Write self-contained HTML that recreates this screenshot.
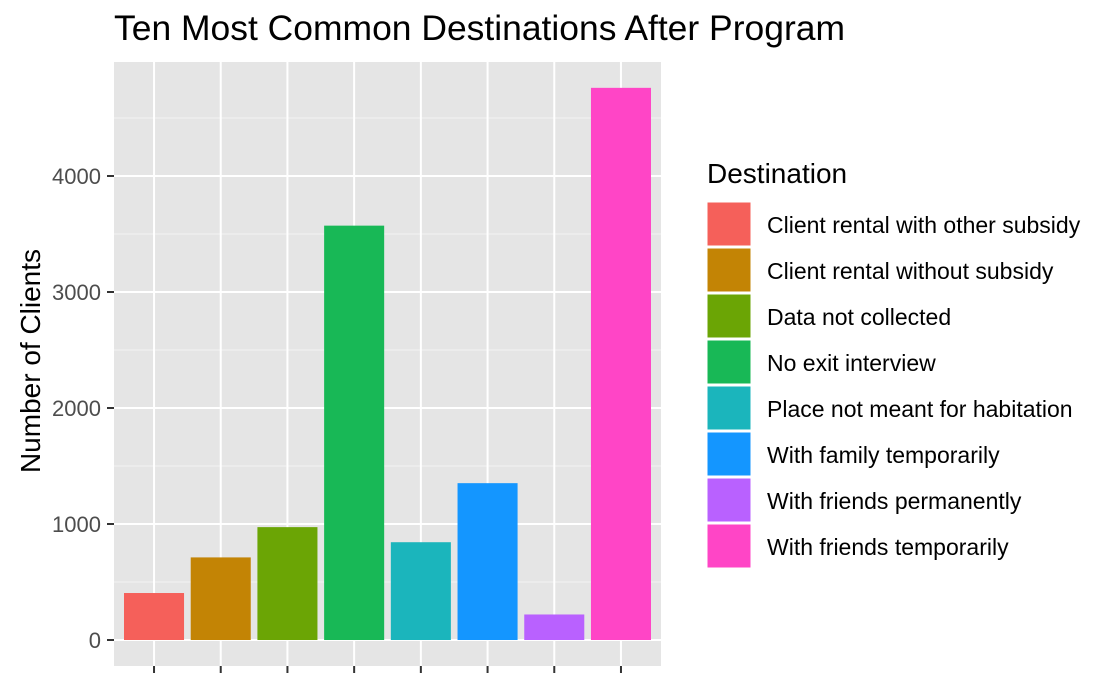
<!DOCTYPE html>
<html><head><meta charset="utf-8"><style>
body{margin:0;background:#fff;font-family:"Liberation Sans",Arial,sans-serif}
</style></head><body>
<svg id="chart" width="1116" height="689" xmlns="http://www.w3.org/2000/svg" font-family="Liberation Sans, Arial, sans-serif"></svg>
<script>
const categories=["Client rental with other subsidy","Client rental without subsidy","Data not collected","No exit interview","Place not meant for habitation","With family temporarily","With friends permanently","With friends temporarily"];
const values=[405,712,973,3572,843,1352,220,4760];
const colors=["#F5605A","#C38405","#6BA505","#18B856","#1BB5BC","#1496FF","#B961FF","#FF45C6"];
const yTicks=[0,1000,2000,3000,4000];
const yMinor=[500,1500,2500,3500,4500];
const ns="http://www.w3.org/2000/svg";
const svg=document.getElementById('chart');
const px0=114,px1=661,py0=62,py1=666;
const step=(px1-px0)/(categories.length+0.2);
const x=i=>px0+step*(0.6+i);
const y=v=>640-v*0.116;
function el(t,a,p){const e=document.createElementNS(ns,t);for(const k in a)e.setAttribute(k,a[k]);(p||svg).appendChild(e);return e;}
let r=el('rect',{x:px0,y:py0,width:px1-px0,height:py1-py0,fill:'#E5E5E5'});


yMinor.forEach(v=>{el('line',{x1:px0,x2:px1,y1:y(v),y2:y(v),stroke:'#F2F2F2','stroke-width':1});});
yTicks.forEach(v=>{
 let g=el('line',{x1:px0,x2:px1,y1:y(v),y2:y(v),stroke:'#fff','stroke-width':2});
 
 
 el('line',{x1:px0-7,x2:px0,y1:y(v),y2:y(v),stroke:'#333','stroke-width':2});
 let t=el('text',{x:px0-13,y:y(v)+8,'text-anchor':'end','font-size':22,fill:'#4D4D4D'});
 t.textContent=v;
 
 
});
categories.forEach((c,i)=>{
 el('line',{x1:x(i),x2:x(i),y1:py0,y2:py1,stroke:'#fff','stroke-width':2});
 el('line',{x1:x(i),x2:x(i),y1:py1,y2:py1+7,stroke:'#333','stroke-width':2});
});
categories.forEach((c,i)=>{
 const w=step*0.9;
 let b=el('rect',{x:x(i)-w/2,y:y(values[i]),width:w,height:y(0)-y(values[i]),fill:colors[i]});
 
 
});
let ti=el('text',{x:114,y:40,'font-size':35,fill:'#000',textLength:731,lengthAdjust:'spacingAndGlyphs'});ti.textContent='Ten Most Common Destinations After Program';


let yl=el('text',{x:0,y:0,'font-size':28,fill:'#000','text-anchor':'middle',transform:'translate(40,361) rotate(-90)'});yl.textContent='Number of Clients';


let lt=el('text',{x:707,y:183,'font-size':28,fill:'#000'});lt.textContent='Destination';


categories.forEach((c,i)=>{
 const ky=202+i*46;
 let k=el('rect',{x:707,y:ky,width:44,height:44,fill:colors[i],stroke:'#fff','stroke-width':1});
 
 
 let t=el('text',{x:767,y:ky+31,'font-size':23,fill:'#000'});t.textContent=c;
 
 
});
</script>
</body></html>
